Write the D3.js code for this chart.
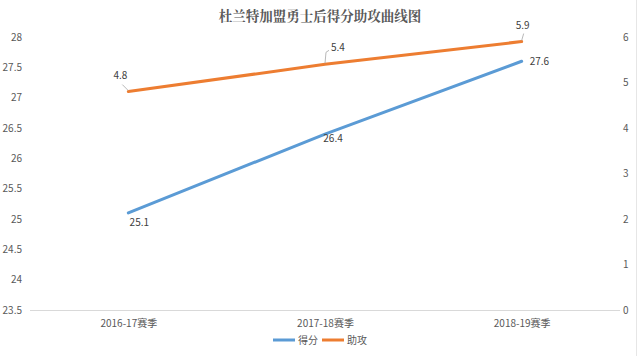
<!DOCTYPE html>
<html><head><meta charset="utf-8">
<script src="https://cdn.jsdelivr.net/npm/d3@7/dist/d3.min.js"></script>
<style>body{margin:0;background:#fff}svg{display:block}</style>
</head><body><svg id="c" width="640" height="356"></svg>
<script>
const title = "杜兰特加盟勇士后得分助攻曲线图";
const categories = ["2016-17赛季", "2017-18赛季", "2018-19赛季"];
const points = [25.1, 26.4, 27.6];
const assists = [4.8, 5.4, 5.9];
const leftTicks = [23.5, 24, 24.5, 25, 25.5, 26, 26.5, 27, 27.5, 28];
const rightTicks = [0, 1, 2, 3, 4, 5, 6];
const seriesNames = ["得分", "助攻"];
const colors = ["#5B9BD5", "#ED7D31"];

(function(){
const svg = d3.select("#c");
const font = "'Microsoft YaHei','Noto Sans CJK SC','DejaVu Sans',sans-serif";
const pL = 30, pR = 620, pT = 37, pB = 310;
const x = d3.scalePoint().domain(categories).range([pL, pR]).padding(0.5);
const yL = d3.scaleLinear().domain([23.5, 28]).range([pB, pT]);
const yR = d3.scaleLinear().domain([0, 6]).range([pB, pT]);
const txt = "#595959";

svg.append("rect").attr("x",0).attr("y",0).attr("width",640).attr("height",356).attr("fill","#fff");
svg.append("line").attr("x1",636.5).attr("x2",636.5).attr("y1",0).attr("y2",356).attr("stroke","#e6e6e6");

svg.append("text").attr("x", 320).attr("y", 21).attr("text-anchor","middle")
  .attr("font-family", "'Noto Serif CJK SC','Noto Sans CJK SC',serif").attr("font-size", 13.5).attr("font-weight","bold").attr("fill", txt).text(title);

const gl = svg.append("g").attr("transform",`translate(${pL},0)`)
  .call(d3.axisLeft(yL).tickValues(leftTicks).tickSize(0).tickPadding(8).tickFormat(d3.format("")));
gl.select(".domain").remove();
gl.selectAll("text").attr("font-family", font).attr("font-size", 10).attr("fill", txt);

const gr = svg.append("g").attr("transform",`translate(${pR},0)`)
  .call(d3.axisRight(yR).tickValues(rightTicks).tickSize(0).tickPadding(3).tickFormat(d3.format("")));
gr.select(".domain").remove();
gr.selectAll("text").attr("font-family", font).attr("font-size", 10).attr("fill", txt);

svg.append("line").attr("x1", pL).attr("x2", pR).attr("y1", pB+0.5).attr("y2", pB+0.5)
  .attr("stroke", "#d9d9d9").attr("stroke-width", 1);

const gx = svg.append("g").attr("transform",`translate(0,${pB})`)
  .call(d3.axisBottom(x).tickSize(0).tickPadding(10));
gx.select(".domain").remove();
gx.selectAll("text").attr("font-family", font).attr("font-size", 10).attr("fill", txt);

const line = (ys) => d3.line().x((d,i)=>x(categories[i])).y(d=>ys(d));
svg.append("path").datum(points).attr("d", line(yL)).attr("fill","none")
  .attr("stroke", colors[0]).attr("stroke-width", 3).attr("stroke-linecap","round");
svg.append("path").datum(assists).attr("d", line(yR)).attr("fill","none")
  .attr("stroke", colors[1]).attr("stroke-width", 3).attr("stroke-linecap","round");

const lab = (px, py, t, anchor) => svg.append("text").attr("x", px).attr("y", py)
  .attr("text-anchor", anchor || "middle").attr("font-family", font).attr("font-size", 10).attr("fill", "#404040").text(t);
const leader = (d) => svg.append("path").attr("d", d).attr("fill","none").attr("stroke","#a6a6a6").attr("stroke-width",0.8);

{
  let px = x(categories[0]), py = yR(assists[0]);
  leader(`M${px},${py-1} L${px-6},${py-7}`);
  lab(px-8, py-13, assists[0]);
  px = x(categories[1]); py = yR(assists[1]);
  leader(`M${px},${py-1} L${px+1},${py-12} L${px+4},${py-14}`);
  lab(px+6, py-13, assists[1], "start");
  px = x(categories[2]); py = yR(assists[2]);
  leader(`M${px},${py-1} L${px+2},${py-8}`);
  lab(px+1, py-13, assists[2]);
}
{
  let px = x(categories[0]), py = yL(points[0]);
  lab(px+11, py+13, points[0]);
  px = x(categories[1]); py = yL(points[1]);
  lab(px+8, py+8, points[1]);
  px = x(categories[2]); py = yL(points[2]);
  lab(px+8, py+4, points[2], "start");
}

const lg = svg.append("g");
const lx = [273, 322];
seriesNames.forEach((n,i)=>{
  lg.append("line").attr("x1", lx[i]).attr("x2", lx[i]+22).attr("y1", 340).attr("y2", 340)
    .attr("stroke", colors[i]).attr("stroke-width", 3);
  lg.append("text").attr("x", lx[i]+25).attr("y", 344).attr("font-family", font).attr("font-size", 10)
    .attr("fill", txt).text(n);
});
})();
</script></body></html>
